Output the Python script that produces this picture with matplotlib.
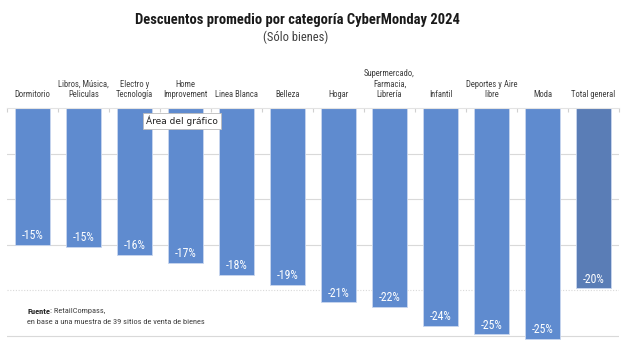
import numpy as np
import matplotlib.pyplot as plt
import matplotlib.font_manager as fm

# Data
categorias = ["Dormitorio", "Libros, Música,\nPeliculas", "Electro y\nTecnología",
              "Home\nImprovement", "Linea Blanca", "Belleza", "Hogar",
              "Supermercado,\nFarmacia,\nLibrería", "Infantil", "Deportes y Aire\nlibre",
              "Moda", "Total general"]
descuentos = [-15.0, -15.2, -16.1, -17.0, -18.3, -19.4, -21.3, -21.8, -23.9, -24.8, -25.3, -19.8]
etiquetas = ["-15%", "-15%", "-16%", "-17%", "-18%", "-19%", "-21%", "-22%",
             "-24%", "-25%", "-25%", "-20%"]
grid_vals = [-5, -10, -15, -20, -25]

# pick a narrow font if one is installed
fonts = [(f.name, f.stretch) for f in fm.fontManager.ttflist]
names = {n for n, s in fonts}
stretch = "normal"
if "Liberation Sans Narrow" in names:
    fam = "Liberation Sans Narrow"
elif "Roboto Condensed" in names:
    fam = "Roboto Condensed"
else:
    fam = "DejaVu Sans"
    if any(n == "DejaVu Sans" and s == "condensed" for n, s in fonts):
        stretch = "condensed"
plt.rcParams['font.family'] = [fam, "DejaVu Sans"]
plt.rcParams['font.stretch'] = stretch

fig = plt.figure(figsize=(6.32, 3.58), dpi=100)
ax = fig.add_axes([7 / 632, 1 - 345 / 358, 612 / 632, 237 / 358])

x = np.arange(len(categorias))
colors = ["#5f8bcf"] * (len(categorias) - 1) + ["#5a7db6"]

# gridlines
for g in grid_vals:
    ls = (0, (1, 1.5)) if g == -20 else "-"
    ax.axhline(g, color="#d9d9d9", lw=0.8, ls=ls, zorder=0)

ax.bar(x, descuentos, width=0.68, color=colors, edgecolor="#c9d7ef", linewidth=0.6, zorder=2)

for xi, v, lab in zip(x, descuentos, etiquetas):
    ax.annotate(lab, (xi, v), xytext=(0, 6.5), textcoords="offset points",
                ha="center", va="center", color="white", fontsize=8.5)

# category labels above the plot
for xi, cat in zip(x, categorias):
    ax.annotate(cat, (xi, 0), xytext=(0, 6.5), textcoords="offset points",
                ha="center", va="bottom", color="#404040", fontsize=6.2, linespacing=1.2)

ax.set_xlim(-0.5, len(categorias) - 0.5)
ax.set_ylim(-26, 0)
for s in ["left", "right", "bottom"]:
    ax.spines[s].set_visible(False)
ax.spines["top"].set_color("#e3e3e3")
ax.spines["top"].set_linewidth(0.8)
ax.set_yticks([])
ax.set_xticks(np.arange(-0.5, len(categorias), 1))
ax.xaxis.tick_top()
ax.tick_params(axis="x", direction="in", length=3, color="#d0d0d0", labeltop=False)

# title
fig.text(297 / 632, 1 - 20 / 358, "Descuentos promedio por categoría CyberMonday 2024",
         ha="center", va="center", fontsize=10.5, fontweight="bold", color="#1a1a1a")
fig.text(296 / 632, 1 - 37 / 358, "(Sólo bienes)", ha="center", va="center",
         fontsize=9, color="#404040")

# tooltip
fig.text(182 / 632, 1 - 121 / 358, "Área del gráfico", ha="center", va="center",
         fontsize=6.5, color="#222222", family=["DejaVu Sans"], stretch="normal",
         bbox=dict(boxstyle="square,pad=0.3", facecolor="white", edgecolor="#bbbbbb", lw=0.6),
         zorder=5)

# source
t1 = fig.text(27 / 632, 1 - 311 / 358, "Fuente", ha="left", va="center",
              fontsize=6, fontweight="bold", color="#222222")
fig.canvas.draw()
bb = t1.get_window_extent()
fig.text(bb.x1 / fig.bbox.width, 1 - 311 / 358, ": RetailCompass,", ha="left", va="center",
         fontsize=6, color="#404040")
fig.text(27 / 632, 1 - 322 / 358, "en base a una muestra de 39 sitios de venta de bienes",
         ha="left", va="center", fontsize=6, color="#404040")

fig.savefig("out.png", dpi=100)
